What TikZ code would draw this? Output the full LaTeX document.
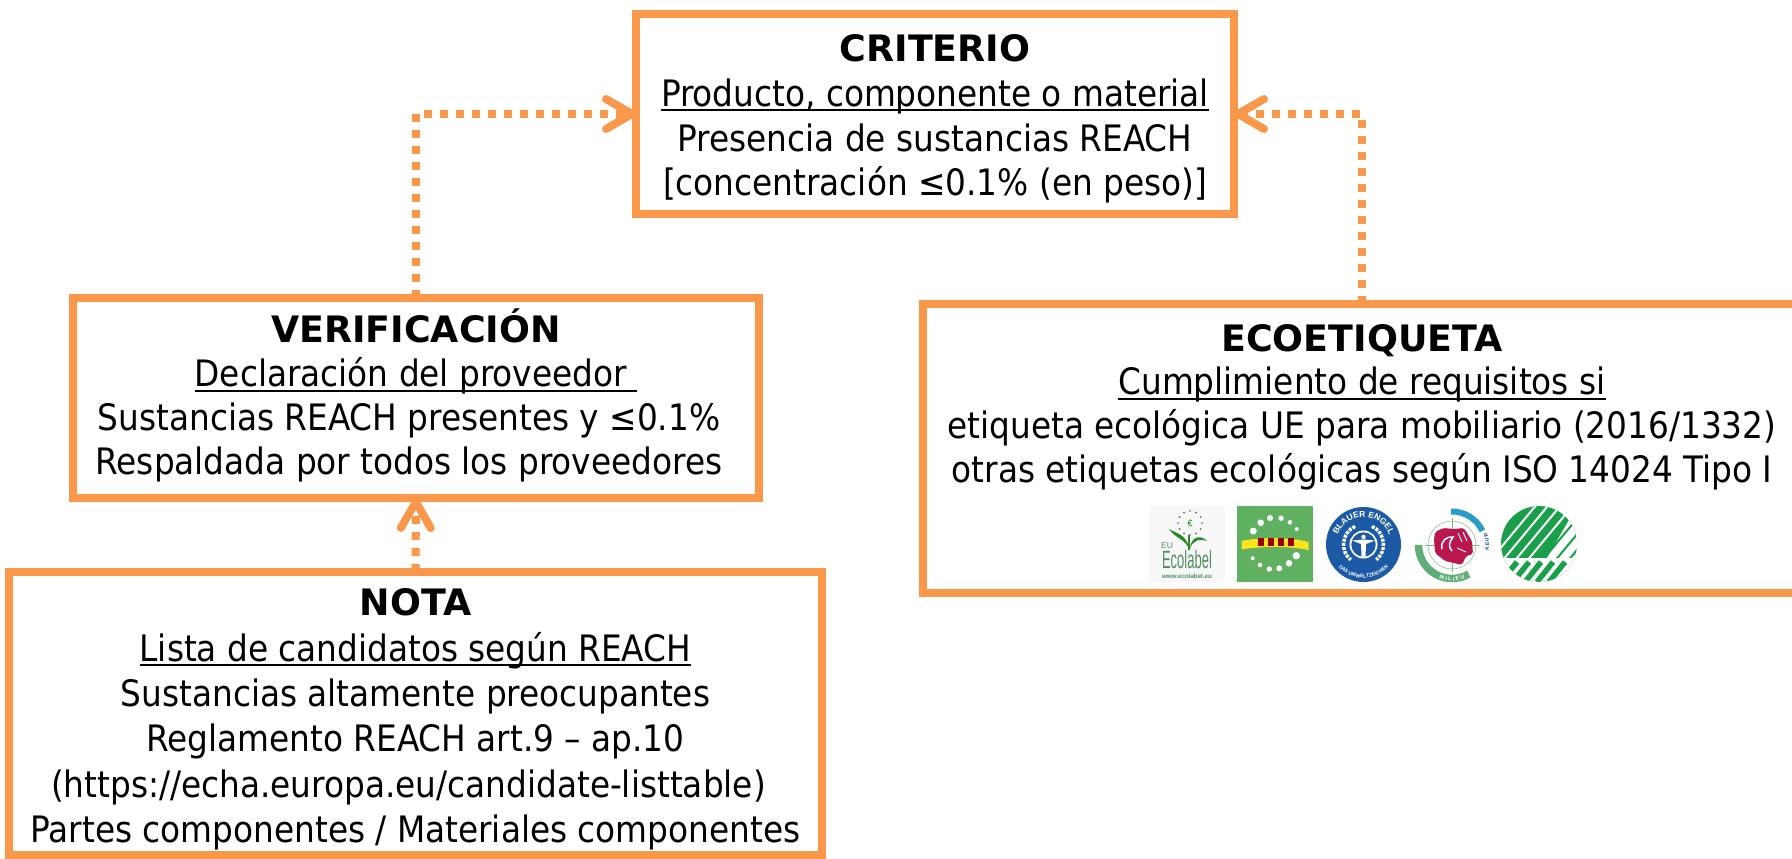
\documentclass[tikz,border=0pt]{standalone}
\usepackage{fontspec}
\usetikzlibrary{arrows.meta,decorations.text}
\setmainfont[BoldFont={DejaVu Sans Bold}]{DejaVu Sans Condensed}
\newfontfamily\logofont{Liberation Sans}
\definecolor{boxorange}{HTML}{F9984A}
\definecolor{ecogreen}{HTML}{5FB060}
\definecolor{labelgreen}{HTML}{4F8F5F}
\definecolor{engelblue}{HTML}{1D5AA6}
\definecolor{swangreen}{HTML}{1AA04A}
\definecolor{mkblue}{HTML}{2A9CC8}
\definecolor{mkgreen}{HTML}{5FAE7A}
\definecolor{mkred}{HTML}{B8184F}
\newsavebox{\ulinbox}
\newlength{\ulinwd}
\newcommand{\ulin}[1]{\sbox{\ulinbox}{#1}\setlength{\ulinwd}{\wd\ulinbox}\leavevmode\rlap{\rule[-5pt]{\ulinwd}{2.2pt}}\usebox{\ulinbox}}
\newcommand{\linepad}{\rule{14pt}{0pt}}
\tikzset{
  infobox/.style={draw=boxorange,line width=8pt,fill=white,inner sep=0pt,outer sep=0pt,align=center,text=black},
  link/.style={draw=boxorange,line width=8pt,dash pattern=on 8pt off 8pt,-{Straight Barb[length=26pt,width=30pt,round]}},
  arctext/.style={decorate,decoration={text along path,text align=center,text={#1}}},
  logotext/.style={inner sep=0pt,outer sep=0pt}
}
\begin{document}
\begin{tikzpicture}[x=1pt,y=-1pt]
\useasboundingbox (0,0) rectangle (1792,859);
\clip (0,0) rectangle (1792,859);
\node[infobox,font=\fontsize{36.4}{44.6}\selectfont,minimum width=598pt,minimum height=200pt] (crit) at (935,114) {\rule{0pt}{37pt}\textbf{CRITERIO}\\\ulin{Producto, componente o material}\\Presencia de sustancias REACH\\{[}concentración ≤0.1\% (en peso)]};
\node[infobox,font=\fontsize{36.4}{44}\selectfont,minimum width=686pt,minimum height=200pt] (ver) at (416,398) {\textbf{VERIFICACIÓN}\\\ulin{Declaración del proveedor\ }\\Sustancias REACH presentes y ≤0.1\%\linepad\\Respaldada por todos los proveedores\linepad\rule[-12pt]{0pt}{1pt}};
\node[infobox,font=\fontsize{36.4}{45.3}\selectfont,minimum width=813pt,minimum height=283pt] (nota) at (415.5,713.5) {\rule{0pt}{39pt}\textbf{NOTA}\\\ulin{Lista de candidatos según REACH}\\Sustancias altamente preocupantes\\Reglamento REACH art.9 – ap.10\\(https://echa.europa.eu/candidate-listtable)\linepad\\Partes componentes / Materiales componentes};
\node[infobox,font=\fontsize{36.4}{43.8}\selectfont,minimum width=878pt,minimum height=289pt] (eco) at (1362,448.5) {\textbf{ECOETIQUETA}\\\ulin{Cumplimiento de requisitos si}\\etiqueta ecológica UE para mobiliario (2016/1332)\\otras etiquetas ecológicas según ISO 14024 Tipo I\\[4pt]\rule{0pt}{78pt}};
\draw[link] (ver.north) |- (crit.west);
\draw[link] (eco.north) |- (crit.east);
\draw[link] (nota.north) -- (ver.south);

% EU Ecolabel
\begin{scope}[shift={(1187,544)},x=1pt,y=1pt]
\fill[black!3] (-38,-38) rectangle (38,38);
\foreach \a in {0,30,...,330}
  \fill[black!65] ({3+12*cos(\a)},{21+12*sin(\a)}) circle (.9);
\node[logotext,text=green!55!black,font=\logofont\fontsize{9}{9}\selectfont] (eurosign) at (3,21) {€};
\fill[green!45!black!85] (2,-4) .. controls (-4,6) and (-12,6) .. (-18,15) .. controls (-10,10) and (-1,10) .. (2,-4);
\fill[green!45!black!85] (3,-4) .. controls (6,4) and (14,6) .. (20,3) .. controls (13,10) and (4,7) .. (3,-4);
\draw[green!45!black!85,line width=1.2pt] (2,9) -- (2,-6);
\node[logotext,text=labelgreen,font=\logofont\fontsize{8.5}{8.5}\selectfont] (eutext) at (-20,-1.5) {EU};
\node[logotext,text=labelgreen,font=\logofont\fontsize{25}{25}\selectfont,xscale=.52] (ecotext) at (0,-15.5) {Ecolabel};
\node[logotext,text=labelgreen,font=\logofont\bfseries\fontsize{6.2}{6.2}\selectfont] (ecourl) at (0,-32) {www.ecolabel.eu};
\end{scope}

% Green label
\begin{scope}[shift={(1275,544)},x=1pt,y=1pt]
\fill[ecogreen] (-38,-38) rectangle (38,38);
\fill[yellow!85!orange!90] (-33.5,3) .. controls (-15,7) and (15,7) .. (33.5,2) -- (33.5,-6) .. controls (15,-2) and (-15,-2) .. (-33.5,-5.5) -- cycle;
\foreach \a in {-17.5,-7.5,2.5,12.5}
  \fill[red!60!black] (\a,6.5) rectangle ++(6,-8.5);
\foreach \p/\q/\r in {-21.7/13/3.5,-14.3/21.3/3.3,-5/26/3,6/25.7/2.7,15/21.7/2.3,21.7/15/2,-22.3/-14.3/2,-15/-21/2.3,-5.7/-25/2.7,4.3/-24.3/3,14/-19.3/3.3,21.3/-11.7/3.7}
  \fill[white] (\p,\q) circle (\r);
\end{scope}

% Blauer Engel
\begin{scope}[shift={(1363.5,544.5)},x=1pt,y=1pt]
\fill[engelblue] (0,0) circle (37.5);
\path[arctext={|\logofont\bfseries\fontsize{8.5}{9}\selectfont\color{white}|BLAUER ENGEL}] (175:27.5) arc (175:5:27.5);
\path[arctext={|\logofont\bfseries\fontsize{5}{6}\selectfont\color{white}|DAS UMWELTZEICHEN}] (-165:33.5) arc (-165:-15:33.5);
\draw[white,line width=3.4pt,dash pattern=on 3pt off 1.2pt] (115:20) arc (115:230:20);
\draw[white,line width=3.4pt,dash pattern=on 3pt off 1.2pt] (65:20) arc (65:-50:20);
\fill[white] (0,0) circle (14);
\fill[engelblue] (0,0) circle (12.2);
\fill[white] (0,7.5) circle (2.2);
\fill[white] (-11.5,4) -- (0,5) -- (11.5,4) -- (2.5,.5) -- (2,-12) -- (-2,-12) -- (-2.5,.5) -- cycle;
\end{scope}

% Milieukeur
\begin{scope}[shift={(1452,545)},x=1pt,y=1pt]
\draw[mkblue,line width=6pt] (92:33.5) arc (92:25:33.5);
\draw[mkgreen,line width=7.5pt] (180:33.5) arc (180:300:33.5);
\draw[green!45!black!50,line width=.5pt] (0,0) circle (24);
\draw[green!45!black!50,line width=.5pt] (-27,0) -- (27,0) (0,-27) -- (0,27);
\path[arctext={|\logofont\bfseries\fontsize{5.5}{6}\selectfont\color{white}|M I L I E U}] (-175:36) arc (-175:-5:36);
\path[arctext={|\logofont\bfseries\fontsize{5}{6}\selectfont\color{engelblue!70!black}|K E U R}] (-65:37) arc (-65:75:37);
\fill[mkred,rounded corners=2pt] (-18,6) -- (-17,13) -- (-9,17) -- (2,16) -- (12,17) -- (20,4) -- (21,-9) -- (14,-11) -- (10,-20) -- (2,-18) -- (-7,-16) -- (-17,-8) -- cycle;
\draw[white,line width=1.5pt] (-10,-4) .. controls (-12,4) and (-5,9) .. (1,8) .. controls (-3,3) and (-4,-2) .. (0,-6);
\draw[white,line width=.9pt] (6,12) -- (10,3) (11,13) -- (15,4) (5,-3) -- (14,-7);
\end{scope}

% Nordic swan
\begin{scope}[shift={(1539,544)},x=1pt,y=1pt]
\begin{scope}
\clip (0,0) circle (38);
\fill[swangreen] (-38,-38) rectangle (38,38);
\fill[white] (8,-14) -- (45,-14) -- (45,38) -- (38,38) -- cycle;
\foreach \d in {-27,-17.5,-8,1.5}
  \draw[white,line width=2pt] ({\d*.77-60*.64},{-\d*.64-60*.77}) -- ({\d*.77+60*.64},{-\d*.64+60*.77});
\foreach \d in {13,23,33}
  \draw[swangreen,line width=2pt] ({\d*.77-22*.64},{-\d*.64-22*.77}) -- ({\d*.77+60*.64},{-\d*.64+60*.77});
\fill[white] (-38,-38) rectangle (38,-14);
\foreach \d in {-24,-12,0,12,24,36}
  \draw[swangreen,line width=5.5pt] ({\d-14},-38) -- ({\d+2},-18);
\end{scope}
\end{scope}
\end{tikzpicture}
\end{document}
